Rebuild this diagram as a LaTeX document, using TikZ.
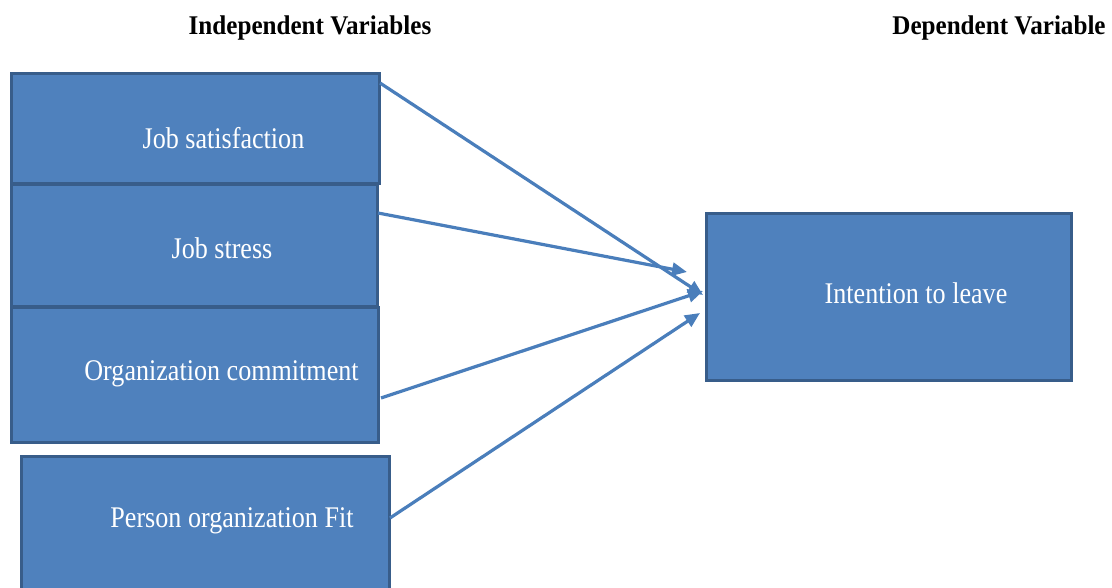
\documentclass[tikz,border=0pt]{standalone}
\usepackage{fontspec}
\setmainfont{Liberation Serif}
\newfontfamily\boxfont[FakeStretch=0.87]{Liberation Serif}
\newfontfamily\headfont[FakeStretch=0.93]{Liberation Serif}
\usetikzlibrary{arrows.meta}
\definecolor{boxfill}{HTML}{4F81BD}
\definecolor{boxline}{HTML}{385D8A}
\definecolor{arrowc}{HTML}{4A7EBB}
\begin{document}
\begin{tikzpicture}[x=1pt,y=-1pt,
  box/.style={draw=boxline, fill=boxfill, line width=3pt, inner sep=0pt},
  boxtext/.style={anchor=base, text=white, inner sep=0pt, font=\boxfont\fontsize{30}{34}\selectfont},
  head/.style={anchor=base, inner sep=0pt, font=\headfont\bfseries\fontsize{27}{32}\selectfont},
  conn/.style={draw=arrowc, line width=3.2pt, -{Triangle[length=15pt,width=13pt]}}]
\useasboundingbox (0,0) rectangle (1112,588);
\clip (0,0) rectangle (1112,588);
% headings
\node[head] (hind) at (310,35) {Independent Variables};
\node[head] (hdep) at (999,35) {Dependent Variable};
% boxes
\node[box, minimum width=368pt, minimum height=110pt] (js) at (195,129) {};
\node[box, minimum width=366pt, minimum height=122pt] (st) at (194,246) {};
\node[box, minimum width=367pt, minimum height=134pt] (oc) at (194.5,375) {};
\node[box, minimum width=368pt, minimum height=144pt] (pof) at (205,528) {};
\node[box, minimum width=365pt, minimum height=166pt] (itl) at (888.5,297) {};
% texts
\node[boxtext] (jst) at (223.5,149) {Job satisfaction};
\node[boxtext] (stt) at (222,259) {Job stress};
\node[boxtext] (oct) at (221.5,381) {Organization commitment};
\node[boxtext] (poft) at (232,527) {Person organization Fit};
\node[boxtext] (itlt) at (916,304) {Intention to leave};
% connector ends
\coordinate (s1) at (380,83);
\coordinate (t1) at (703,295);
\coordinate (s2) at (378,213);
\coordinate (t2) at (687,272);
\coordinate (s3) at (381,398);
\coordinate (t3) at (703,291);
\coordinate (s4) at (390,518);
\coordinate (t4) at (700,313);
\draw[conn] (s1) -- (t1);
\draw[conn] (s2) -- (t2);
\draw[conn] (s3) -- (t3);
\draw[conn] (s4) -- (t4);
\end{tikzpicture}
\end{document}
